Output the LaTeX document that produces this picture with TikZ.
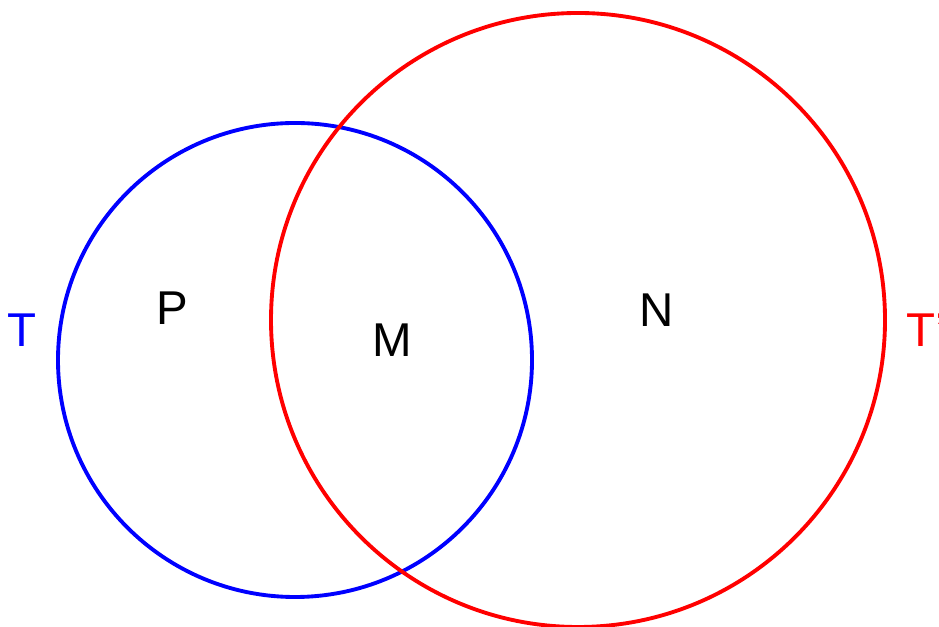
\documentclass[tikz,border=0pt]{standalone}
\usepackage{fontspec}
\setmainfont{Liberation Sans}
\usepackage{xcolor}
\usetikzlibrary{positioning}

\begin{document}
\begin{tikzpicture}[line width=1.1pt,
    lab/.style={font=\fontsize{13.5}{15}\selectfont, inner sep=0pt}]
    \useasboundingbox (0,0) rectangle (9.39,6.27);
    % the two sets
    \draw[blue] (2.95,2.67) circle (2.37);
    \draw[red] (5.78,3.07) circle (3.07);
    % set names
    \node[lab, text=blue] (tset) at (0.22,2.97) {T};
    \node[lab, text=red, anchor=west] (tpset) at (9.05,2.97) {T'};
    % regions
    \node[lab] (p) at (1.72,3.19) {P};
    \node[lab] (m) at (3.92,2.87) {M};
    \node[lab] (n) at (6.57,3.17) {N};
\end{tikzpicture}
\end{document}
